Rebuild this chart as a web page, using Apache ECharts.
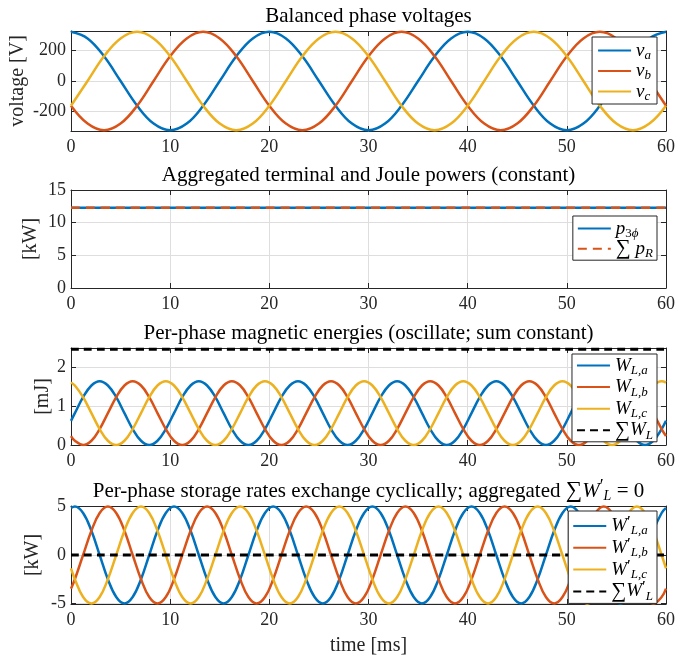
<!DOCTYPE html>
<html>
<head>
<meta charset="utf-8">
<script src="https://cdn.jsdelivr.net/npm/echarts@6/dist/echarts.min.js"></script>
<style>
  html, body { margin: 0; padding: 0; background: #fff; }
  #main { width: 676px; height: 661px; }
</style>
</head>
<body>
<div id="main"></div>
<script>
// sample times [ms] for the voltages (every 30 deg of the 50 Hz wave)
const timeV = [
  0, 1.67, 3.33, 5, 6.67, 8.33, 10, 11.67, 13.33, 15, 16.67, 18.33,
  20, 21.67, 23.33, 25, 26.67, 28.33, 30, 31.67, 33.33, 35, 36.67, 38.33,
  40, 41.67, 43.33, 45, 46.67, 48.33, 50, 51.67, 53.33, 55, 56.67, 58.33,
  60
];
// sample times [ms] for energies / storage rates (hits every peak and trough)
const timeW = [
  0,
  0.39, 1.22, 2.06, 2.89, 3.72, 4.56, 5.39, 6.22, 7.06, 7.89, 8.72, 9.56,
  10.39, 11.22, 12.06, 12.89, 13.72, 14.56, 15.39, 16.22, 17.06, 17.89, 18.72, 19.56,
  20.39, 21.22, 22.06, 22.89, 23.72, 24.56, 25.39, 26.22, 27.06, 27.89, 28.72, 29.56,
  30.39, 31.22, 32.06, 32.89, 33.72, 34.56, 35.39, 36.22, 37.06, 37.89, 38.72, 39.56,
  40.39, 41.22, 42.06, 42.89, 43.72, 44.56, 45.39, 46.22, 47.06, 47.89, 48.72, 49.56,
  50.39, 51.22, 52.06, 52.89, 53.72, 54.56, 55.39, 56.22, 57.06, 57.89, 58.72, 59.56,
  60
];
const edgeTime = [0, 60];

// phase voltages [V]
const va = [
  325, 281, 163, 0, -163, -281, -325, -281, -163, 0, 163, 281,
  325, 281, 163, 0, -163, -281, -325, -281, -163, 0, 163, 281,
  325, 281, 163, 0, -163, -281, -325, -281, -163, 0, 163, 281,
  325
];
const vb = [
  -163, -281, -325, -281, -163, 0, 163, 281, 325, 281, 163, 0,
  -163, -281, -325, -281, -163, 0, 163, 281, 325, 281, 163, 0,
  -163, -281, -325, -281, -163, 0, 163, 281, 325, 281, 163, 0,
  -163
];
const vc = [
  -163, 0, 163, 281, 325, 281, 163, 0, -163, -281, -325, -281,
  -163, 0, 163, 281, 325, 281, 163, 0, -163, -281, -325, -281,
  -163, 0, 163, 281, 325, 281, 163, 0, -163, -281, -325, -281,
  -163
];

// aggregated powers [kW]
const p3phi = [12.3, 12.3];
const sumPR = [12.3, 12.3];

// magnetic energies [mJ]
const WLa = [
  0.618,
  0.815, 1.223, 1.521, 1.630, 1.521, 1.223, 0.815, 0.408, 0.109, 0, 0.109, 0.408,
  0.815, 1.223, 1.521, 1.630, 1.521, 1.223, 0.815, 0.408, 0.109, 0, 0.109, 0.408,
  0.815, 1.223, 1.521, 1.630, 1.521, 1.223, 0.815, 0.408, 0.109, 0, 0.109, 0.408,
  0.815, 1.223, 1.521, 1.630, 1.521, 1.223, 0.815, 0.408, 0.109, 0, 0.109, 0.408,
  0.815, 1.223, 1.521, 1.630, 1.521, 1.223, 0.815, 0.408, 0.109, 0, 0.109, 0.408,
  0.815, 1.223, 1.521, 1.630, 1.521, 1.223, 0.815, 0.408, 0.109, 0, 0.109, 0.408,
  0.618
];
const WLb = [
  0.229,
  0.109, 0, 0.109, 0.408, 0.815, 1.223, 1.521, 1.630, 1.521, 1.223, 0.815, 0.408,
  0.109, 0, 0.109, 0.408, 0.815, 1.223, 1.521, 1.630, 1.521, 1.223, 0.815, 0.408,
  0.109, 0, 0.109, 0.408, 0.815, 1.223, 1.521, 1.630, 1.521, 1.223, 0.815, 0.408,
  0.109, 0, 0.109, 0.408, 0.815, 1.223, 1.521, 1.630, 1.521, 1.223, 0.815, 0.408,
  0.109, 0, 0.109, 0.408, 0.815, 1.223, 1.521, 1.630, 1.521, 1.223, 0.815, 0.408,
  0.109, 0, 0.109, 0.408, 0.815, 1.223, 1.521, 1.630, 1.521, 1.223, 0.815, 0.408,
  0.229
];
const WLc = [
  1.598,
  1.521, 1.223, 0.815, 0.408, 0.109, 0, 0.109, 0.408, 0.815, 1.223, 1.521, 1.630,
  1.521, 1.223, 0.815, 0.408, 0.109, 0, 0.109, 0.408, 0.815, 1.223, 1.521, 1.630,
  1.521, 1.223, 0.815, 0.408, 0.109, 0, 0.109, 0.408, 0.815, 1.223, 1.521, 1.630,
  1.521, 1.223, 0.815, 0.408, 0.109, 0, 0.109, 0.408, 0.815, 1.223, 1.521, 1.630,
  1.521, 1.223, 0.815, 0.408, 0.109, 0, 0.109, 0.408, 0.815, 1.223, 1.521, 1.630,
  1.521, 1.223, 0.815, 0.408, 0.109, 0, 0.109, 0.408, 0.815, 1.223, 1.521, 1.630,
  1.598
];
const sumWL = [2.445, 2.445];

// storage rates [kW]
const dWLa = [
  4.85,
  5.0, 4.33, 2.5, 0, -2.5, -4.33, -5.0, -4.33, -2.5, 0, 2.5, 4.33,
  5.0, 4.33, 2.5, 0, -2.5, -4.33, -5.0, -4.33, -2.5, 0, 2.5, 4.33,
  5.0, 4.33, 2.5, 0, -2.5, -4.33, -5.0, -4.33, -2.5, 0, 2.5, 4.33,
  5.0, 4.33, 2.5, 0, -2.5, -4.33, -5.0, -4.33, -2.5, 0, 2.5, 4.33,
  5.0, 4.33, 2.5, 0, -2.5, -4.33, -5.0, -4.33, -2.5, 0, 2.5, 4.33,
  5.0, 4.33, 2.5, 0, -2.5, -4.33, -5.0, -4.33, -2.5, 0, 2.5, 4.33,
  4.85
];
const dWLb = [
  -3.47,
  -2.5, 0, 2.5, 4.33, 5.0, 4.33, 2.5, 0, -2.5, -4.33, -5.0, -4.33,
  -2.5, 0, 2.5, 4.33, 5.0, 4.33, 2.5, 0, -2.5, -4.33, -5.0, -4.33,
  -2.5, 0, 2.5, 4.33, 5.0, 4.33, 2.5, 0, -2.5, -4.33, -5.0, -4.33,
  -2.5, 0, 2.5, 4.33, 5.0, 4.33, 2.5, 0, -2.5, -4.33, -5.0, -4.33,
  -2.5, 0, 2.5, 4.33, 5.0, 4.33, 2.5, 0, -2.5, -4.33, -5.0, -4.33,
  -2.5, 0, 2.5, 4.33, 5.0, 4.33, 2.5, 0, -2.5, -4.33, -5.0, -4.33,
  -3.47
];
const dWLc = [
  -1.38,
  -2.5, -4.33, -5.0, -4.33, -2.5, 0, 2.5, 4.33, 5.0, 4.33, 2.5, 0,
  -2.5, -4.33, -5.0, -4.33, -2.5, 0, 2.5, 4.33, 5.0, 4.33, 2.5, 0,
  -2.5, -4.33, -5.0, -4.33, -2.5, 0, 2.5, 4.33, 5.0, 4.33, 2.5, 0,
  -2.5, -4.33, -5.0, -4.33, -2.5, 0, 2.5, 4.33, 5.0, 4.33, 2.5, 0,
  -2.5, -4.33, -5.0, -4.33, -2.5, 0, 2.5, 4.33, 5.0, 4.33, 2.5, 0,
  -2.5, -4.33, -5.0, -4.33, -2.5, 0, 2.5, 4.33, 5.0, 4.33, 2.5, 0,
  -1.38
];
const sumdWL = [0, 0];

const titles = [
  'Balanced phase voltages',
  'Aggregated terminal and Joule powers (constant)',
  'Per-phase magnetic energies (oscillate; sum constant)',
  'Per-phase storage rates exchange cyclically; aggregated {g|∑}{i|W}{p|′}{s|L}{t| = 0}'
];
const yNames = ['voltage [V]', '[kW]', '[mJ]', '[kW]'];

const FONT = 'Liberation Serif';
const AX = '#262626';
const BLUE = '#0072BD', ORANGE = '#D95319', YELLOW = '#EDB120';

const gridTop = [31, 190, 348, 506];
const gridHeight = [100, 98, 97, 98];

const yCfg = [
  { min: -330, max: 330, splitNumber: 3, nameGap: 43, hideMin: true, hideMax: true },
  { min: 0, max: 15, interval: 5, nameGap: 30 },
  { min: 0, max: 2.48, interval: 1, nameGap: 18, hideMax: true },
  { min: -5.05, max: 5.05, splitNumber: 2, nameGap: 28, hideMin: true, hideMax: true }
];

const labelRich = {
  i: { fontFamily: FONT, fontStyle: 'italic', fontSize: 19, lineHeight: 20 },
  s: { fontFamily: FONT, fontStyle: 'italic', fontSize: 13, lineHeight: 20, padding: [10, 0, 0, 0] },
  r: { fontFamily: FONT, fontSize: 13, lineHeight: 20, padding: [10, 0, 0, 0] },
  n: { fontFamily: FONT, fontSize: 19, lineHeight: 20 },
  p: { fontFamily: FONT, fontSize: 17, lineHeight: 20, padding: [0, 0, 7, 0] },
  g: { fontFamily: FONT, fontSize: 21, lineHeight: 20 }
};
const legendText = {
  va: '{i|v}{s|a}', vb: '{i|v}{s|b}', vc: '{i|v}{s|c}',
  p3: '{i|p}{r|3}{s|ϕ}', sumPR: '{g|∑}{i| p}{s|R}',
  WLa: '{i|W}{s|L,a}', WLb: '{i|W}{s|L,b}', WLc: '{i|W}{s|L,c}', sumWL: '{g|∑}{i|W}{s|L}',
  dWLa: '{i|W}{p|′}{s|L,a}', dWLb: '{i|W}{p|′}{s|L,b}', dWLc: '{i|W}{p|′}{s|L,c}', sumdWL: '{g|∑}{i|W}{p|′}{s|L}'
};

function pairs(xs, ys) {
  return xs.map((x, k) => [x, ys[k]]);
}

const grids = [], xAxes = [], yAxes = [], titleList = [], series = [];

for (let g = 0; g < 4; g++) {
  grids.push({ left: 71, right: 10, top: gridTop[g], height: gridHeight[g], outerBoundsMode: 'none' });

  titleList.push({
    text: titles[g],
    left: 368.5,
    top: gridTop[g] - 26,
    textAlign: 'center',
    padding: 0,
    textStyle: {
      fontFamily: FONT, fontSize: 21, fontWeight: 'normal', color: '#000', lineHeight: 22,
      rich: {
        g: { fontFamily: FONT, fontSize: 23, lineHeight: 22 },
        i: { fontFamily: FONT, fontStyle: 'italic', fontSize: 21, lineHeight: 22 },
        p: { fontFamily: FONT, fontSize: 18, lineHeight: 22, padding: [0, 0, 7, 0] },
        s: { fontFamily: FONT, fontStyle: 'italic', fontSize: 14, lineHeight: 22, padding: [10, 0, 0, 0] },
        t: { fontFamily: FONT, fontSize: 21, lineHeight: 22 }
      }
    }
  });

  const xBase = {
    type: 'value', gridIndex: g, min: 0, max: 60, interval: 10,
    axisLine: { show: true, onZero: false, lineStyle: { color: AX, width: 1 } },
    axisTick: { show: true, inside: true, length: 5, lineStyle: { color: AX } }
  };
  xAxes.push(Object.assign({}, xBase, {
    position: 'bottom',
    axisLabel: { margin: 7, fontFamily: FONT, fontSize: 18, color: AX },
    splitLine: { show: true, lineStyle: { color: '#dedede', width: 1 } },
    name: g === 3 ? 'time [ms]' : '',
    nameLocation: 'middle', nameGap: 32, nameMoveOverlap: false,
    nameTextStyle: { fontFamily: FONT, fontSize: 20, color: AX }
  }));
  xAxes.push(Object.assign({}, xBase, {
    position: 'top',
    axisLabel: { show: false },
    splitLine: { show: false }
  }));

  const c = yCfg[g];
  const yBase = {
    type: 'value', gridIndex: g, min: c.min, max: c.max,
    axisLine: { show: true, onZero: false, lineStyle: { color: AX, width: 1 } },
    axisTick: { show: true, inside: true, length: 5, lineStyle: { color: AX } }
  };
  if (c.interval) yBase.interval = c.interval; else yBase.splitNumber = c.splitNumber;
  yAxes.push(Object.assign({}, yBase, {
    position: 'left',
    axisLabel: {
      margin: 5, fontFamily: FONT, fontSize: 18, color: AX,
      showMinLabel: !c.hideMin, showMaxLabel: !c.hideMax
    },
    splitLine: { show: true, lineStyle: { color: '#dedede', width: 1 } },
    name: yNames[g], nameLocation: 'middle', nameRotate: 90, nameGap: c.nameGap,
    nameMoveOverlap: false,
    nameTextStyle: { fontFamily: FONT, fontSize: 20, color: AX }
  }));
  yAxes.push(Object.assign({}, yBase, {
    position: 'right',
    axisLabel: { show: false },
    splitLine: { show: false }
  }));
}

function line(name, g, xs, ys, color, width, dash) {
  return {
    name: name, type: 'line', xAxisIndex: 2 * g, yAxisIndex: 2 * g,
    data: pairs(xs, ys),
    symbol: 'none', showSymbol: false, smooth: 0.4,
    lineStyle: { color: color, width: width, type: dash || 'solid' },
    itemStyle: { color: color },
    emphasis: { disabled: true }
  };
}

series.push(
  line('va', 0, timeV, va, BLUE, 2.5),
  line('vb', 0, timeV, vb, ORANGE, 2.5),
  line('vc', 0, timeV, vc, YELLOW, 2.5),
  line('p3', 1, edgeTime, p3phi, BLUE, 2.5),
  line('sumPR', 1, edgeTime, sumPR, ORANGE, 2.5, [9, 6]),
  line('WLa', 2, timeW, WLa, BLUE, 2.5),
  line('WLb', 2, timeW, WLb, ORANGE, 2.5),
  line('WLc', 2, timeW, WLc, YELLOW, 2.5),
  line('sumWL', 2, edgeTime, sumWL, '#000', 3, [8, 5]),
  line('dWLa', 3, timeW, dWLa, BLUE, 2.5),
  line('dWLb', 3, timeW, dWLb, ORANGE, 2.5),
  line('dWLc', 3, timeW, dWLc, YELLOW, 2.5),
  line('sumdWL', 3, edgeTime, sumdWL, '#000', 3, [8, 5])
);

function legend(names, top, gap, pad) {
  return {
    data: names, orient: 'vertical', right: 19, top: top,
    itemWidth: 33, itemHeight: 14, itemGap: gap, itemTextGap: 5,
    padding: pad,
    backgroundColor: '#fff', borderColor: AX, borderWidth: 1, borderRadius: 0,
    selectedMode: false,
    itemStyle: { opacity: 0 },
    formatter: n => legendText[n],
    textStyle: { fontFamily: FONT, fontSize: 19, color: '#000', lineHeight: 20, rich: labelRich }
  };
}

const option = {
  animation: false,
  backgroundColor: '#fff',
  title: titleList,
  grid: grids,
  xAxis: xAxes,
  yAxis: yAxes,
  legend: [
    legend(['va', 'vb', 'vc'], 37, -2.5, [2, 6, 1, 5]),
    legend(['p3', 'sumPR'], 216, -2.8, [1, 4, 0, 4]),
    legend(['WLa', 'WLb', 'WLc', 'sumWL'], 354, -1.4, [0, 4, 0, 4]),
    legend(['dWLa', 'dWLb', 'dWLc', 'sumdWL'], 511, -2.2, [3, 4, 0, 4])
  ],
  series: series
};

const chart = echarts.init(document.getElementById('main'), null, { renderer: 'canvas' });
chart.setOption(option);
</script>
</body>
</html>
